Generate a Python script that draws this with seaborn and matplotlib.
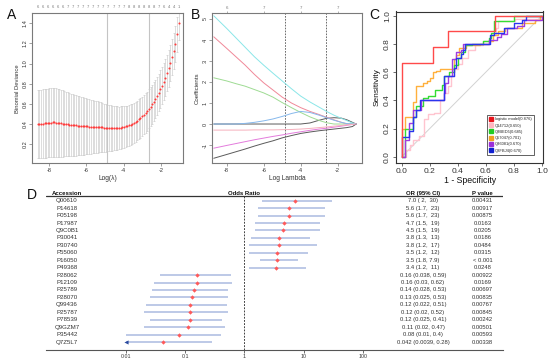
import numpy as np
import pandas as pd
import matplotlib
matplotlib.use("Agg")
import matplotlib.pyplot as plt
import seaborn as sns
from matplotlib import transforms
from matplotlib.lines import Line2D
from matplotlib.ticker import NullLocator

# ---------------- Panel A data (cv.glmnet) ----------------
cv_loglambda = [-8.60, -8.51, -8.42, -8.33, -8.24, -8.16, -8.07, -7.98, -7.89, -7.80,
                -7.71, -7.62, -7.53, -7.45, -7.36, -7.27, -7.18, -7.09, -7.00, -6.91,
                -6.82, -6.74, -6.65, -6.56, -6.47, -6.38, -6.29, -6.20, -6.11, -6.03,
                -5.94, -5.85, -5.76, -5.67, -5.58, -5.49, -5.40, -5.32, -5.23, -5.14,
                -5.05, -4.96, -4.87, -4.78, -4.69, -4.61, -4.52, -4.43, -4.34, -4.25,
                -4.16, -4.07, -3.98, -3.90, -3.81, -3.72, -3.63, -3.54, -3.45, -3.36,
                -3.27, -3.19, -3.10, -3.01, -2.92, -2.83, -2.74, -2.65, -2.56, -2.48,
                -2.39, -2.30, -2.21, -2.12, -2.03, -1.94, -1.85, -1.77, -1.68, -1.59,
                -1.50, -1.41, -1.32, -1.23, -1.14, -1.05]
cv_mean = [0.400, 0.402, 0.404, 0.406, 0.408, 0.409, 0.411, 0.413, 0.415, 0.416,
           0.416, 0.415, 0.413, 0.411, 0.409, 0.406, 0.404, 0.401, 0.398, 0.396,
           0.393, 0.391, 0.389, 0.388, 0.386, 0.385, 0.383, 0.382, 0.380, 0.379,
           0.377, 0.376, 0.375, 0.374, 0.373, 0.372, 0.371, 0.369, 0.368, 0.367,
           0.365, 0.363, 0.361, 0.360, 0.359, 0.359, 0.359, 0.360, 0.361, 0.363,
           0.366, 0.369, 0.373, 0.377, 0.382, 0.388, 0.395, 0.403, 0.412, 0.423,
           0.435, 0.448, 0.462, 0.477, 0.493, 0.510, 0.529, 0.550, 0.572, 0.596,
           0.622, 0.650, 0.680, 0.712, 0.746, 0.782, 0.820, 0.860, 0.905, 0.952,
           1.005, 1.062, 1.125, 1.195, 1.290, 1.400]
cv_sd = [0.335, 0.336, 0.337, 0.338, 0.339, 0.340, 0.340, 0.341, 0.341, 0.341,
         0.340, 0.338, 0.336, 0.333, 0.330, 0.327, 0.323, 0.320, 0.316, 0.313,
         0.309, 0.306, 0.302, 0.299, 0.295, 0.292, 0.288, 0.285, 0.281, 0.278,
         0.274, 0.271, 0.267, 0.264, 0.260, 0.257, 0.253, 0.250, 0.246, 0.243,
         0.239, 0.236, 0.232, 0.229, 0.226, 0.223, 0.220, 0.217, 0.214, 0.211,
         0.209, 0.207, 0.205, 0.203, 0.202, 0.201, 0.200, 0.199, 0.198, 0.197,
         0.196, 0.196, 0.195, 0.195, 0.194, 0.194, 0.193, 0.193, 0.192, 0.191,
         0.190, 0.189, 0.188, 0.187, 0.186, 0.185, 0.184, 0.183, 0.182, 0.181,
         0.180, 0.179, 0.178, 0.177, 0.175, 0.172]
cv_nzero_top = [6, 6, 6, 6, 6, 6, 7, 7, 7, 7, 7, 7, 7, 7, 7, 7, 7, 7,
                8, 8, 8, 8, 8, 8, 7, 6, 4, 4, 1]
log_lambda_min = -4.87
log_lambda_1se = -2.63

# ---------------- Panel B data (coefficient paths) ----------------
path_loglambda = [-8.70, -8.00, -7.50, -7.00, -6.50, -6.00, -5.50, -5.00, -4.50,
                  -4.00, -3.50, -3.00, -2.60, -2.20, -1.80, -1.50, -1.20, -1.00]
coef_v1 = [0, 0, 0, 0, 0, 0, 0, 0, 0, 0, 0.05, 0.18, 0.27, 0.30, 0.28, 0.20, 0.08, 0]
coef_v2 = [4.15, 3.60, 3.20, 2.80, 2.36, 1.96, 1.62, 1.28, 1.00, 0.78, 0.60, 0.45,
           0.32, 0.20, 0.08, 0, 0, 0]
coef_v3 = [2.20, 2.05, 1.92, 1.80, 1.64, 1.48, 1.28, 1.02, 0.78, 0.55, 0.34, 0.17,
           0.06, 0, 0, 0, 0, 0]
coef_v4 = [0, 0, 0, 0.03, 0.08, 0.15, 0.24, 0.36, 0.50, 0.60, 0.55, 0.42, 0.30,
           0.18, 0.08, 0.02, 0, 0]
coef_v5 = [5.15, 4.55, 4.10, 3.65, 3.20, 2.80, 2.42, 2.05, 1.68, 1.33, 1.05, 0.80,
           0.60, 0.42, 0.27, 0.16, 0.05, 0]
coef_v6 = [-1.15, -1.02, -0.93, -0.84, -0.75, -0.67, -0.59, -0.52, -0.44, -0.37,
           -0.30, -0.24, -0.20, -0.15, -0.10, -0.06, -0.02, 0]
coef_v7 = [-1.63, -1.45, -1.32, -1.19, -1.05, -0.92, -0.80, -0.66, -0.55, -0.45,
           -0.38, -0.32, -0.28, -0.24, -0.20, -0.17, -0.12, 0]
coef_v8 = [-0.29, -0.29, -0.29, -0.29, -0.28, -0.28, -0.28, -0.27, -0.26, -0.24,
           -0.21, -0.17, -0.14, -0.10, -0.07, -0.04, -0.02, 0]
path_top_ticks = [-8, -6, -4, -2]
path_top_labels = ["6", "7", "7", "7"]

# ---------------- Panel C data (ROC) ----------------
roc_names = ["logistic model(0.876)", "Q14712(0.650)", "Q9BED5(0.685)",
             "Q57047(0.701)", "Q96081(0.670)", "Q8FBJ4(0.670)"]
fpr_logistic = [0.0, 0.0, 0.222, 0.333, 0.667, 1.0]
tpr_logistic = [0.0, 0.667, 0.778, 0.889, 1.0, 1.0]
fpr_q14712 = [0, 0.03, 0.06, 0.08, 0.12, 0.16, 0.19, 0.23, 0.27, 0.30, 0.33, 0.35,
              0.37, 0.40, 0.43, 0.47, 0.52, 0.58, 0.64, 0.67, 0.69, 0.81, 1.0]
tpr_q14712 = [0, 0.05, 0.08, 0.12, 0.15, 0.27, 0.30, 0.31, 0.40, 0.45, 0.50, 0.57,
              0.62, 0.66, 0.70, 0.76, 0.79, 0.82, 0.86, 0.91, 0.96, 0.98, 1.0]
fpr_q9bed5 = [0.0, 0.02, 0.08, 0.10, 0.155, 0.19, 0.24, 0.29, 0.30, 0.34, 0.37,
              0.40, 0.42, 0.45, 0.50, 0.58, 0.62, 0.64, 0.66, 0.80, 1.0]
tpr_q9bed5 = [0.0, 0.20, 0.28, 0.36, 0.42, 0.43, 0.47, 0.51, 0.57, 0.60, 0.65,
              0.70, 0.74, 0.79, 0.80, 0.82, 0.84, 0.88, 0.96, 1.0, 1.0]
fpr_q57047 = [0.0, 0.0, 0.02, 0.08, 0.10, 0.155, 0.18, 0.20, 0.22, 0.245, 0.27, 0.37,
              0.39, 0.41, 0.46, 0.56, 0.62, 0.65, 0.69, 0.74, 0.86, 0.95, 0.99, 1.0]
tpr_q57047 = [0.0, 0.20, 0.28, 0.39, 0.50, 0.52, 0.54, 0.56, 0.60, 0.61, 0.62, 0.69,
              0.72, 0.77, 0.79, 0.80, 0.82, 0.86, 0.89, 0.91, 0.95, 0.97, 1.0, 1.0]
fpr_q96081 = [0.0, 0.02, 0.05, 0.08, 0.14, 0.30, 0.31, 0.33, 0.36, 0.39, 0.42, 0.44,
              0.62, 0.68, 0.71, 0.75, 0.82, 0.87, 1.0]
tpr_q96081 = [0.0, 0.12, 0.24, 0.33, 0.40, 0.45, 0.52, 0.57, 0.69, 0.74, 0.76, 0.80,
              0.83, 0.85, 0.87, 0.91, 0.93, 0.97, 1.0]
fpr_q8fbj4 = [0.0, 0.0, 0.05, 0.08, 0.10, 0.13, 0.30, 0.37, 0.39, 0.42, 0.44, 0.45,
              0.63, 0.66, 0.73, 0.80, 0.86, 0.89, 1.0]
tpr_q8fbj4 = [0.0, 0.14, 0.18, 0.28, 0.33, 0.40, 0.57, 0.63, 0.70, 0.73, 0.76, 0.80,
              0.86, 0.88, 0.91, 0.95, 0.97, 1.0, 1.0]

# ---------------- Panel D data (forest plot) ----------------
accession = ["Q00610", "P14618", "P05198", "P17987", "Q9C0B1", "P30041", "P30740",
             "P55060", "P16050", "P49368", "P28062", "P12109", "P25789", "P28070",
             "Q99436", "P25787", "P78539", "Q9GZM7", "P35442", "Q7Z5L7"]
odds_ratio = [7.0, 5.6, 5.6, 4.7, 4.5, 3.8, 3.8, 3.5, 3.5, 3.4,
              0.16, 0.16, 0.14, 0.13, 0.12, 0.12, 0.12, 0.11, 0.08, 0.042]
ci_low = [2, 1.7, 1.7, 1.5, 1.5, 1.3, 1.2, 1.2, 1.8, 1.2,
          0.038, 0.03, 0.028, 0.025, 0.022, 0.02, 0.025, 0.02, 0.01, 0.0039]
ci_high = [30, 23, 23, 19, 19, 13, 17, 12, 7.9, 11,
           0.59, 0.62, 0.53, 0.53, 0.51, 0.52, 0.41, 0.47, 0.4, 0.28]
or_text = ["7.0 ( 2,  30)", "5.6 (1.7,  23)", "5.6 (1.7,  23)", "4.7 (1.5,  19)",
           "4.5 (1.5,  19)", "3.8 (1.3,  13)", "3.8 (1.2,  17)", "3.5 (1.2,  12)",
           "3.5 (1.8, 7.9)", "3.4 (1.2,  11)", "0.16 (0.038, 0.59)", "0.16 (0.03, 0.62)",
           "0.14 (0.028, 0.53)", "0.13 (0.025, 0.53)", "0.12 (0.022, 0.51)",
           "0.12 (0.02, 0.52)", "0.12 (0.025, 0.41)", "0.11 (0.02, 0.47)",
           "0.08 (0.01, 0.4)", "0.042 (0.0039, 0.28)"]
p_text = ["0.00431", "0.00917", "0.00875", "0.0163", "0.0205", "0.0186", "0.0484",
          "0.0315", "< 0.001", "0.0248", "0.00922", "0.0169", "0.00697", "0.00835",
          "0.00767", "0.00845", "0.00242", "0.00501", "0.00593", "0.00338"]
forest_ticks = [0.01, 0.1, 1, 10, 100]
forest_ticklabels = ["0.01", "0.1", "1", "10", "100"]

# ---------------- figure ----------------
sns.set_theme(style="ticks")
plt.rcParams["font.family"] = ["Liberation Sans", "DejaVu Sans"]
plt.rcParams["axes.unicode_minus"] = False

W, H = 554, 361
fig = plt.figure(figsize=(W / 100, H / 100), dpi=100)
fig.patch.set_facecolor("white")


def ax_px(l, t, r, b):
    return fig.add_axes([l / W, 1 - b / H, (r - l) / W, (b - t) / H])


def style_box(ax, color, lw=0.8, fs=4.0, tl=2.2):
    for s in ax.spines.values():
        s.set_color(color)
        s.set_linewidth(lw)
    ax.tick_params(axis="both", length=tl, width=0.5, colors="#333333",
                   labelsize=fs, pad=1.2, direction="out")
    ax.tick_params(axis="both", color=color)
    ax.tick_params(axis="y", labelrotation=90)
    for lab in ax.get_yticklabels():
        lab.set_va("center")


# ---------- Panel A ----------
axA = ax_px(32.3, 13.3, 183.3, 163.3)
dfA = pd.DataFrame({"loglam": cv_loglambda, "dev": cv_mean, "sd": cv_sd})
axA.axvline(log_lambda_min, color="#c4c4c4", lw=0.8, zorder=0)
axA.axvline(log_lambda_1se, color="#c4c4c4", lw=0.8, zorder=0)
axA.errorbar(dfA["loglam"], dfA["dev"], yerr=dfA["sd"], fmt="none",
             ecolor="#c9c9c9", elinewidth=0.45, capsize=0.9, capthick=0.45, zorder=1)
sns.scatterplot(data=dfA, x="loglam", y="dev", ax=axA, color="#ff3b3b", s=2.2,
                linewidth=0, zorder=3)
axA.set_xlim(-8.895, -0.806)
axA.set_ylim(0.012, 1.497)
axA.set_xticks([-8, -6, -4, -2])
axA.set_yticks([0.2, 0.4, 0.6, 0.8, 1.0, 1.2, 1.4])
axA.set_yticklabels(["0.2", "0.4", "0.6", "0.8", "1.0", "1.2", "1.4"])
axA.set_xlabel("Log(λ)", fontsize=4.8, labelpad=1.5, color="#333333")
axA.set_ylabel("Binomial Deviance", fontsize=4.2, labelpad=2, color="#333333")
style_box(axA, "#7a7a7a")
trA = transforms.blended_transform_factory(axA.transData, axA.transAxes)
top_idx = np.round(np.linspace(0, len(cv_loglambda) - 1, len(cv_nzero_top))).astype(int)
for k, i in enumerate(top_idx):
    axA.text(cv_loglambda[i], 1.045, str(cv_nzero_top[k]), transform=trA,
             ha="center", va="center", fontsize=3.0, color="#777777")

# ---------- Panel B ----------
axB = ax_px(212.3, 13.3, 361.7, 163.3)
coef_sets = {"v1": coef_v1, "v2": coef_v2, "v3": coef_v3, "v4": coef_v4,
             "v5": coef_v5, "v6": coef_v6, "v7": coef_v7, "v8": coef_v8}
dfB = pd.concat([pd.DataFrame({"loglam": path_loglambda, "coef": v, "var": k})
                 for k, v in coef_sets.items()], ignore_index=True)
palB = {"v1": "#5a5a5a", "v2": "#f08898", "v3": "#9edb93", "v4": "#86b8ec",
        "v5": "#8ae6e8", "v6": "#e37bdc", "v7": "#5a5a5a", "v8": "#f6b0bd"}
sns.lineplot(data=dfB, x="loglam", y="coef", hue="var", palette=palB, ax=axB,
             estimator=None, sort=False, legend=False, lw=0.7)
for v in (log_lambda_min, log_lambda_1se):
    axB.axvline(v, color="#555555", lw=0.6, ls=(0, (2, 1.5)), zorder=0)
axB.set_xlim(-8.78, -0.70)
axB.set_ylim(-1.87, 5.27)
axB.set_xticks([-8, -6, -4, -2])
axB.set_yticks([-1, 0, 1, 2, 3, 4, 5])
axB.set_xlabel("Log Lambda", fontsize=4.8, labelpad=1.5, color="#333333")
axB.set_ylabel("Coefficients", fontsize=4.4, labelpad=2, color="#333333")
style_box(axB, "#7a7a7a")
axBt = axB.twiny()
axBt.set_xlim(axB.get_xlim())
axBt.set_xticks(path_top_ticks)
axBt.set_xticklabels(path_top_labels)
axBt.tick_params(axis="x", length=1.2, width=0.4, labelsize=3.2, pad=1.5,
                 colors="#777777")
for s in axBt.spines.values():
    s.set_visible(False)

# ---------- Panel C ----------
axC = ax_px(396, 11.5, 543.3, 162.5)
axC.plot([0, 1], [0, 1], color="#d2d2d2", lw=0.7, zorder=0)
roc_curves = [
    (fpr_q14712, tpr_q14712, "#ffc4cf", roc_names[1]),
    (fpr_q57047, tpr_q57047, "#ffb03c", roc_names[3]),
    (fpr_q9bed5, tpr_q9bed5, "#33dd33", roc_names[2]),
    (fpr_q96081, tpr_q96081, "#a03de0", roc_names[4]),
    (fpr_q8fbj4, tpr_q8fbj4, "#2a35ee", roc_names[5]),
    (fpr_logistic, tpr_logistic, "#ff4a4a", roc_names[0]),
]
for fx, ty, col, nm in roc_curves:
    sns.lineplot(x=fx, y=ty, ax=axC, color=col, lw=1.0, sort=False,
                 estimator=None, drawstyle="steps-post")
axC.set_xlim(-0.041, 1.01)
axC.set_ylim(-0.041, 1.03)
axC.set_xticks([0, 0.2, 0.4, 0.6, 0.8, 1.0])
axC.set_xticklabels(["0.0", "0.2", "0.4", "0.6", "0.8", "1.0"])
axC.set_yticks([0, 0.2, 0.4, 0.6, 0.8, 1.0])
axC.set_yticklabels(["0.0", "0.2", "0.4", "0.6", "0.8", "1.0"])
axC.set_xlabel("1 - Specificity", fontsize=6.3, labelpad=1.0, color="#111111")
axC.set_ylabel("Sensitivity", fontsize=6.0, labelpad=2.0, color="#111111")
style_box(axC, "#333333", lw=0.8, fs=6.0, tl=2.5)
leg_cols = {roc_names[0]: "#e8141c", roc_names[1]: "#ffb6c1",
            roc_names[2]: "#22cc22", roc_names[3]: "#f0a020",
            roc_names[4]: "#9b30d9", roc_names[5]: "#1020d0"}
handles = [Line2D([], [], marker="s", ls="", markersize=2.6, markerfacecolor=c,
                  markeredgecolor=c, label=n) for n, c in leg_cols.items()]
leg = axC.legend(handles=handles, loc="lower left", bbox_to_anchor=(0.62, 0.05),
                 fontsize=2.9, frameon=True, fancybox=False, framealpha=1,
                 edgecolor="#222222", handlelength=0.8, handletextpad=0.5,
                 labelspacing=0.55, borderpad=0.6, borderaxespad=0)
leg.get_frame().set_linewidth(0.5)

# ---------- Panel D ----------
axD = ax_px(46, 188, 503, 350)
axD.set_xscale("log")
axD.set_xlim(10 ** -3.35, 10 ** 4.363)
axD.set_ylim(20.07, -1.707)
rows = np.arange(len(accession))
lo_plot = np.maximum(ci_low, 0.01)
axD.hlines(rows, lo_plot, ci_high, color="#b7c5e5", lw=1.3, zorder=1)
dfD = pd.DataFrame({"or": odds_ratio, "row": rows})
sns.scatterplot(data=dfD, x="or", y="row", ax=axD, marker="D", s=5,
                color="#ff5a5a", linewidth=0, zorder=3)
clipped = [i for i, v in enumerate(ci_low) if v < 0.01]
sns.scatterplot(x=[0.01] * len(clipped), y=clipped, ax=axD, marker="<", s=9,
                color="#2a4aa0", linewidth=0, zorder=3)
axD.plot([1, 1], [-0.67, 20.07], color="#222222", lw=0.6, ls=(0, (2.2, 1.6)), zorder=0)
axD.axhline(-0.67, color="#333333", lw=0.9)
for s in ("top", "left", "right"):
    axD.spines[s].set_visible(False)
axD.spines["bottom"].set_color("#555555")
axD.spines["bottom"].set_linewidth(0.8)
axD.set_xticks(forest_ticks)
axD.set_xticklabels(forest_ticklabels)
axD.xaxis.set_minor_locator(NullLocator())
axD.set_yticks([])
axD.tick_params(axis="x", length=1.8, width=0.5, labelsize=3.8, pad=1.2,
                colors="#333333")
axD.set_xlabel("")
axD.set_ylabel("")
trD = transforms.blended_transform_factory(axD.transAxes, axD.transData)
hdr_y = -1.03
axD.text(0.046, hdr_y, "Accession", transform=trD, ha="center", va="center",
         fontsize=4.3, fontweight="bold", color="#111111")
axD.text(1, hdr_y, "Odds Ratio", ha="center", va="center", fontsize=4.3,
         fontweight="bold", color="#111111")
axD.text(0.825, hdr_y, "OR (95% CI)", transform=trD, ha="center", va="center",
         fontsize=4.3, fontweight="bold", color="#111111")
axD.text(0.9556, hdr_y, "P value", transform=trD, ha="center", va="center",
         fontsize=4.3, fontweight="bold", color="#111111")
for i in rows:
    axD.text(0.046, i, accession[i], transform=trD, ha="center", va="center",
             fontsize=4.4, color="#333333")
    axD.text(0.825, i, or_text[i], transform=trD, ha="center", va="center",
             fontsize=4.2, color="#333333")
    axD.text(0.9556, i, p_text[i], transform=trD, ha="center", va="center",
             fontsize=4.2, color="#333333")

# ---------- panel letters ----------
for letter, (px, py) in {"A": (12, 15), "B": (195, 15), "C": (374, 15),
                         "D": (32, 195)}.items():
    fig.text(px / W, 1 - py / H, letter, ha="center", va="center", fontsize=10,
             color="#111111")

fig.savefig("out.png", dpi=100, facecolor="white")
